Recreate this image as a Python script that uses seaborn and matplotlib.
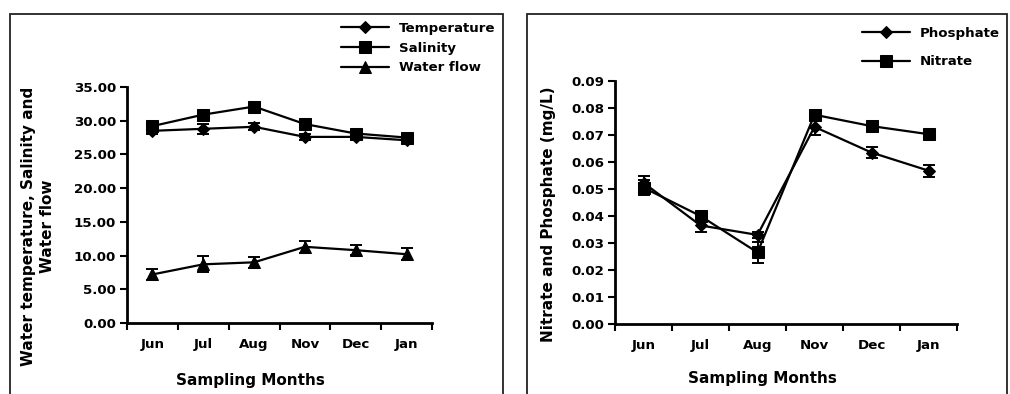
import numpy as np
import pandas as pd
import matplotlib
matplotlib.use("Agg")
import matplotlib.pyplot as plt
from matplotlib.patches import Rectangle
import seaborn as sns

months = ["Jun", "Jul", "Aug", "Nov", "Dec", "Jan"]

temperature = [28.5, 28.8, 29.1, 27.6, 27.6, 27.1]
temperature_err = [0.4, 0.7, 0.5, 0.4, 0.3, 0.4]
salinity = [29.2, 30.9, 32.1, 29.5, 28.1, 27.5]
salinity_err = [0.4, 0.6, 0.4, 0.5, 0.3, 0.3]
water_flow = [7.2, 8.7, 9.0, 11.3, 10.8, 10.2]
water_flow_err = [0.85, 1.2, 0.8, 0.9, 0.7, 0.85]

phosphate = [0.0523, 0.0365, 0.0330, 0.0730, 0.0635, 0.0568]
phosphate_err = [0.0025, 0.0025, 0.0012, 0.0030, 0.0020, 0.0022]
nitrate = [0.0505, 0.0400, 0.0265, 0.0775, 0.0733, 0.0703]
nitrate_err = [0.0028, 0.0012, 0.0040, 0.0018, 0.0015, 0.0015]

left_ticks = [0, 5, 10, 15, 20, 25, 30, 35]
right_ticks = [0, 0.01, 0.02, 0.03, 0.04, 0.05, 0.06, 0.07, 0.08, 0.09]

sns.set_style("white")
plt.rcParams["font.family"] = ["DejaVu Sans"]
plt.rcParams["font.weight"] = "bold"
plt.rcParams["text.color"] = "black"
plt.rcParams["axes.labelcolor"] = "black"
plt.rcParams["xtick.color"] = "black"
plt.rcParams["ytick.color"] = "black"

W, H = 1010, 394
fig = plt.figure(figsize=(W / 100, H / 100), dpi=100)

FS = 9.6
LFS = 11


def fx(px):
    return px / W


def fy(py):
    return 1 - py / H


# panel frames
fig.patches.append(Rectangle((fx(10), fy(400)), fx(493), fy(14) - fy(400),
                             transform=fig.transFigure, fill=False,
                             edgecolor="#222222", linewidth=1.3))
fig.patches.append(Rectangle((fx(527), fy(400)), fx(480), fy(14) - fy(400),
                             transform=fig.transFigure, fill=False,
                             edgecolor="#222222", linewidth=1.3))

ax1 = fig.add_axes([fx(127), fy(323), fx(432) - fx(127), fy(87) - fy(323)])
ax2 = fig.add_axes([fx(615), fy(324), fx(957) - fx(615), fy(81) - fy(324)])

x = np.arange(len(months))


def draw(ax, series, errs, markers, sizes, names):
    for vals, err, m, s, name in zip(series, errs, markers, sizes, names):
        df = pd.DataFrame({"x": x, "y": vals})
        sns.lineplot(data=df, x="x", y="y", ax=ax, color="black", linewidth=1.6,
                     marker=m, markersize=s, markeredgecolor="black",
                     markerfacecolor="black", label=name, zorder=3)
        ax.errorbar(x, vals, yerr=err, fmt="none", ecolor="black",
                    elinewidth=1.4, capsize=4.5, capthick=1.4, zorder=2)


draw(ax1, [temperature, salinity, water_flow],
     [temperature_err, salinity_err, water_flow_err],
     ["D", "s", "^"], [6, 8.5, 9], ["Temperature", "Salinity", "Water flow"])
draw(ax2, [phosphate, nitrate], [phosphate_err, nitrate_err],
     ["D", "s"], [6, 8.5], ["Phosphate", "Nitrate"])

for ax, yt, ymax in [(ax1, left_ticks, 35), (ax2, right_ticks, 0.09)]:
    ax.set_xlim(-0.5, len(months) - 0.5)
    ax.set_ylim(0, ymax)
    ax.set_xticks(np.arange(-0.5, len(months)), minor=False)
    ax.set_xticklabels([])
    ax.set_xticks(x, minor=True)
    ax.set_xticklabels(months, minor=True, fontsize=FS, fontweight="bold")
    ax.tick_params(axis="x", which="major", direction="out", length=5, width=1.5,
                   bottom=True, color="black")
    ax.tick_params(axis="x", which="minor", length=0, pad=11, bottom=True)
    ax.set_yticks(yt)
    ax.set_yticklabels(["{:.2f}".format(v) for v in yt], fontsize=FS,
                       fontweight="bold")
    ax.tick_params(axis="y", direction="out", length=5, width=1.5, left=True,
                   color="black", pad=3)
    for sp in ["top", "right"]:
        ax.spines[sp].set_visible(False)
    for sp in ["left", "bottom"]:
        ax.spines[sp].set_linewidth(2.0)
        ax.spines[sp].set_color("black")
    ax.set_xlabel("")
    ax.set_ylabel("")
    ax.set_facecolor("white")
    ax.get_legend().remove()

h1, l1 = ax1.get_legend_handles_labels()
fig.legend(h1, l1, loc="upper left", bbox_to_anchor=(fx(341), fy(22)),
           frameon=False, prop={"weight": "bold", "size": FS},
           handlelength=3.6, handletextpad=0.75, labelspacing=0.5,
           borderpad=0, borderaxespad=0)
h2, l2 = ax2.get_legend_handles_labels()
fig.legend(h2, l2, loc="upper left", bbox_to_anchor=(fx(862), fy(27)),
           frameon=False, prop={"weight": "bold", "size": FS},
           handlelength=3.6, handletextpad=0.75, labelspacing=1.15,
           borderpad=0, borderaxespad=0)

fig.text(fx(38), fy(226), "Water temperature, Salinity and\nWater flow",
         rotation=90, ha="center", va="center", multialignment="center",
         fontsize=LFS, fontweight="bold", linespacing=1.35)
fig.text(fx(549), fy(214), "Nitrate and Phosphate (mg/L)",
         rotation=90, ha="center", va="center", fontsize=LFS, fontweight="bold")
fig.text(fx(250), fy(381), "Sampling Months", ha="center", va="center",
         fontsize=LFS, fontweight="bold")
fig.text(fx(762), fy(379), "Sampling Months", ha="center", va="center",
         fontsize=LFS, fontweight="bold")

fig.savefig("out.png", dpi=100, facecolor="white")
